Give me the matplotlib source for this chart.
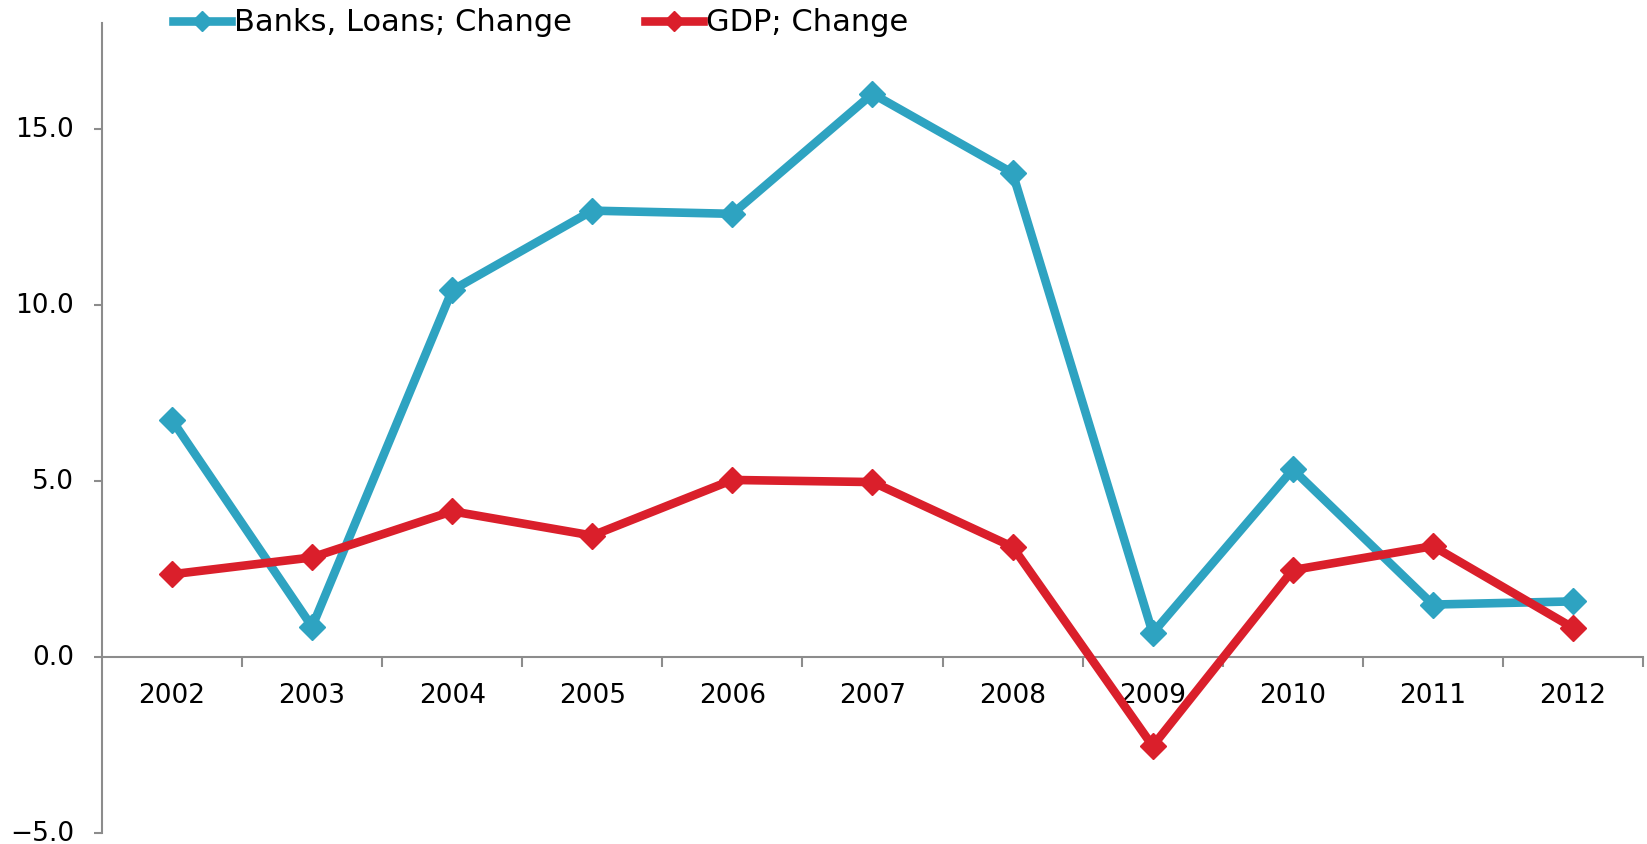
import matplotlib
matplotlib.use("Agg")
import matplotlib.pyplot as plt
from matplotlib.ticker import FixedLocator, FuncFormatter
from matplotlib.transforms import ScaledTranslation

years = ["2002", "2003", "2004", "2005", "2006", "2007", "2008", "2009", "2010", "2011", "2012"]
banks_loans_change = [6.73, 0.86, 10.42, 12.68, 12.59, 16.0, 13.75, 0.68, 5.33, 1.49, 1.58]
gdp_change = [2.35, 2.83, 4.14, 3.45, 5.03, 4.97, 3.13, -2.53, 2.47, 3.15, 0.83]

BLUE = "#2EA3C1"
RED = "#DA1F2B"
AXIS_GREY = "#8C8C8C"

plt.rcParams["font.family"] = ["DejaVu Sans"]

fig = plt.figure(figsize=(16.47, 8.44), dpi=100)
ax = fig.add_axes([0.0619, 0.0130, 0.9357, 0.9593])

x = list(range(len(years)))
ax.plot(x, banks_loans_change, color=BLUE, lw=6.2, marker="D", markersize=13,
        solid_joinstyle="miter", label="Banks, Loans; Change", clip_on=False, zorder=3)
ax.plot(x, gdp_change, color=RED, lw=6.2, marker="D", markersize=13,
        solid_joinstyle="miter", label="GDP; Change", clip_on=False, zorder=4)

ax.set_xlim(-0.5, len(years) - 0.5)
ax.set_ylim(-5, 18)

for side in ("top", "right"):
    ax.spines[side].set_visible(False)
ax.spines["bottom"].set_position(("data", 0))
for side in ("left", "bottom"):
    ax.spines[side].set_color(AXIS_GREY)
    ax.spines[side].set_linewidth(1.5)

ax.set_yticks([-5, 0, 5, 10, 15])
ax.yaxis.set_major_formatter(FuncFormatter(lambda v, p: f"{v:.1f}".replace("-", "\u2212")))
ax.tick_params(axis="y", direction="out", length=6, width=1.5, color=AXIS_GREY,
               labelsize=19, pad=14)
# lift the value labels slightly above their tick marks
lift = ScaledTranslation(0, 1.5 / 72, fig.dpi_scale_trans)
for lbl in ax.get_yticklabels():
    lbl.set_transform(lbl.get_transform() + lift)

ax.set_xticks(x)
ax.set_xticklabels(years)
ax.xaxis.set_minor_locator(FixedLocator([i + 0.5 for i in x]))
ax.tick_params(axis="x", which="major", length=0, labelsize=19, pad=19)
ax.tick_params(axis="x", which="minor", direction="out", length=7, width=1.5, color=AXIS_GREY)

leg = fig.legend(loc="center left", bbox_to_anchor=(0.105, 0.973), ncol=2, frameon=False,
                 fontsize=22, handlelength=1.9, handletextpad=0.1, columnspacing=2.4,
                 borderpad=0, borderaxespad=0, markerscale=0.8)

fig.savefig("out.png", dpi=100)
